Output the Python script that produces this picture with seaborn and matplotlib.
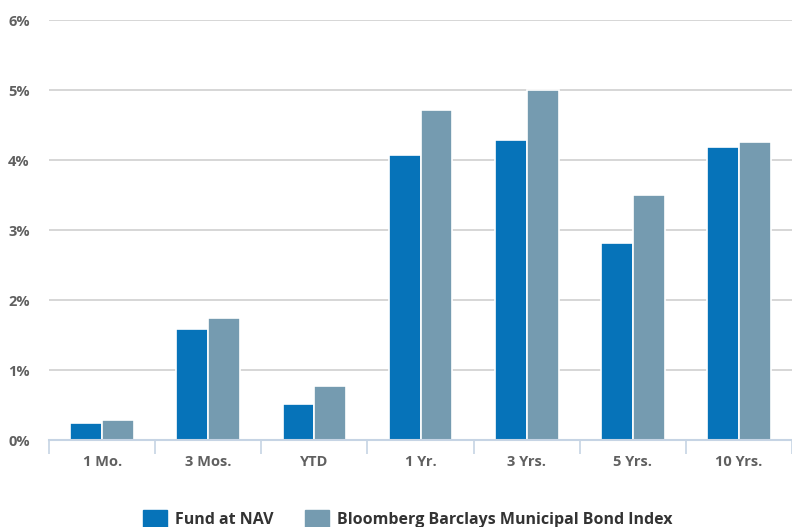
import numpy as np
import pandas as pd
import matplotlib
matplotlib.use("Agg")
import matplotlib.pyplot as plt
import seaborn as sns
from matplotlib.ticker import FuncFormatter

# Data (percent)
periods = ["1 Mo.", "3 Mos.", "YTD", "1 Yr.", "3 Yrs.", "5 Yrs.", "10 Yrs."]
fund_nav = [0.24, 1.59, 0.51, 4.07, 4.29, 2.81, 4.19]
bond_index = [0.29, 1.74, 0.77, 4.71, 5.00, 3.50, 4.26]
series_names = ["Fund at NAV", "Bloomberg Barclays Municipal Bond Index"]
colors = ["#0673B9", "#759BB0"]

df = pd.DataFrame({
    "period": periods * 2,
    "value": fund_nav + bond_index,
    "series": [series_names[0]] * len(periods) + [series_names[1]] * len(periods),
})

sns.set_style("white")
plt.rcParams["font.family"] = ["Open Sans", "DejaVu Sans"]

fig = plt.figure(figsize=(7.92, 5.27), dpi=100)
ax = fig.add_axes([0.062, 0.165, 0.938, 0.797])

sns.barplot(data=df, x="period", y="value", hue="series", palette=colors,
            saturation=1, width=0.6, edgecolor="white", linewidth=1.2,
            ax=ax, legend=False)

ax.set_ylim(0, 6)
ax.set_yticks(range(0, 7))
ax.yaxis.set_major_formatter(FuncFormatter(lambda v, p: f"{int(v)}%"))
ax.grid(axis="y", color="#d0d0d0", linewidth=1.2)
ax.set_axisbelow(True)
for s in ["top", "right", "left"]:
    ax.spines[s].set_visible(False)
ax.spines["bottom"].set_color("#c6d4e4")
ax.spines["bottom"].set_linewidth(1.5)
ax.set_xlim(-0.5, len(periods) - 0.5)
ax.set_xlabel("")
ax.set_ylabel("")

# category separators on the x axis
ax.set_xticks(np.arange(len(periods)))
ax.set_xticks(np.arange(len(periods) + 1) - 0.5, minor=True)
ax.tick_params(axis="x", which="major", bottom=False, length=0, pad=11,
               labelsize=10.5, labelcolor="#606060")
ax.tick_params(axis="x", which="minor", bottom=True, length=10, width=1.2,
               color="#c6d4e4")
ax.tick_params(axis="y", left=False, length=0, pad=14, labelsize=10.5,
               labelcolor="#606060")
for lbl in ax.get_xticklabels() + ax.get_yticklabels():
    lbl.set_fontweight("bold")

handles = [plt.Rectangle((0, 0), 1, 1, color=c) for c in colors]
fig.legend(handles, series_names, loc="lower center", bbox_to_anchor=(0.515, -0.03),
           ncol=2, frameon=False, handlelength=1.5, handleheight=1.3,
           columnspacing=2.0, handletextpad=0.5,
           prop={"weight": "bold", "size": 11.5})
for t in fig.legends[0].get_texts():
    t.set_color("#333333")

fig.savefig("out.png", dpi=100)
